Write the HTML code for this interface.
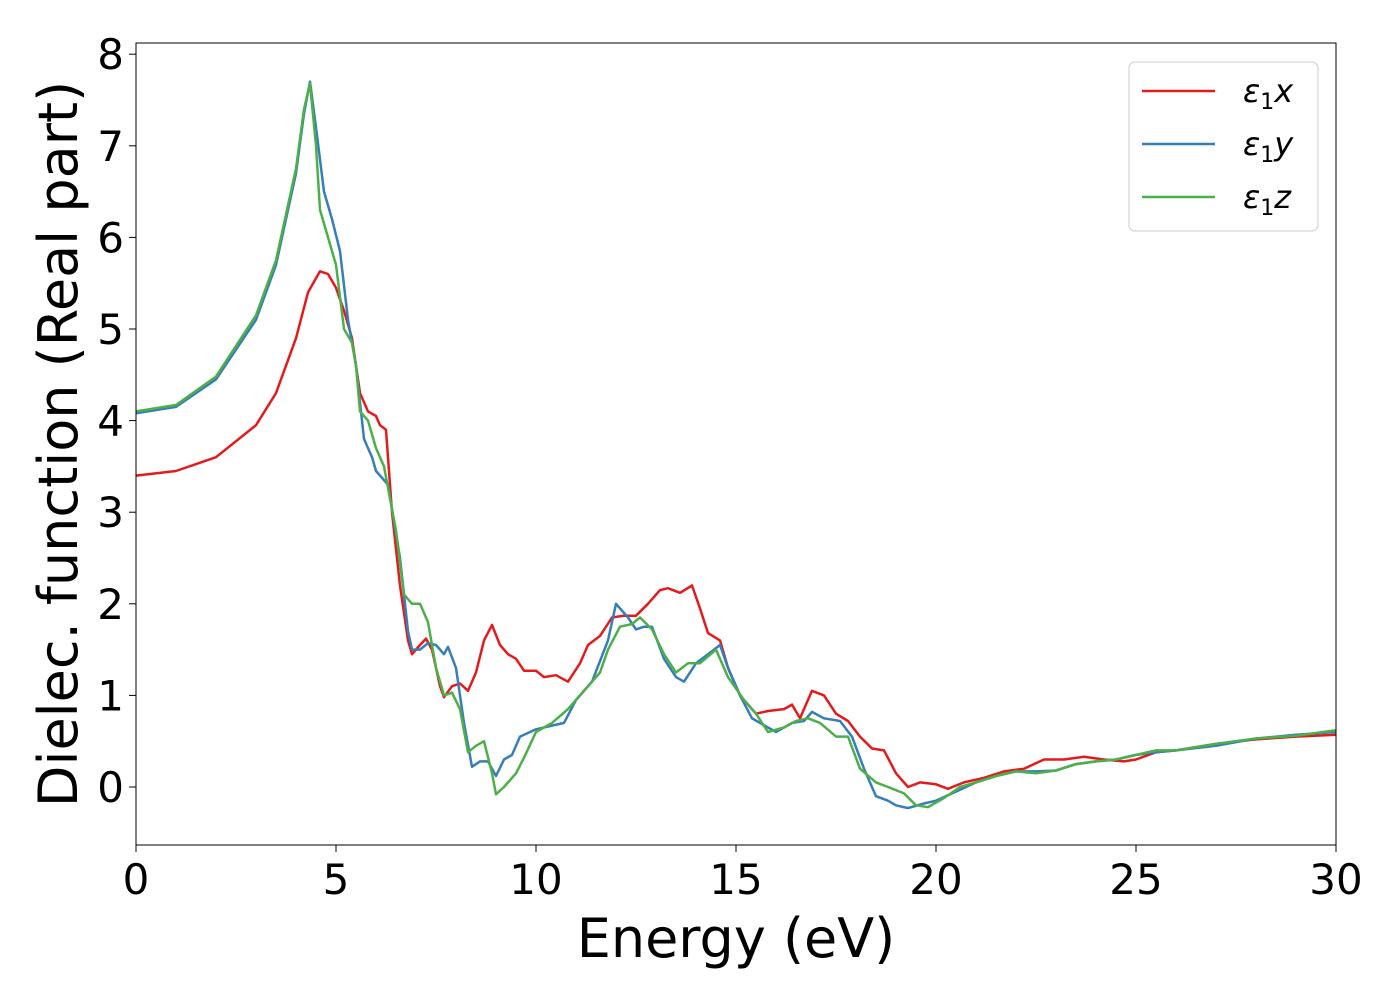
<!DOCTYPE html>
<html><head><meta charset="utf-8"><style>
body{margin:0;background:#fff}
svg{font-family:"DejaVu Sans","Liberation Sans",sans-serif}
</style></head><body>
<svg id="chart" width="1400" height="1000" viewBox="0 0 1400 1000">
<rect x="0" y="0" width="1400" height="1000" fill="#fff"/>
<g id="series"></g>
<rect x="136" y="43" width="1200" height="802" fill="none" stroke="#000" stroke-width="1"/>
<g id="xticks"></g>
<g id="yticks"></g>
<text x="736" y="957" font-size="54" text-anchor="middle">Energy (eV)</text>
<text transform="translate(77,444) rotate(-90)" font-size="54" text-anchor="middle">Dielec. function (Real part)</text>
<g>
<rect x="1129" y="62" width="189" height="169" rx="6" fill="#fff" fill-opacity="0.8" stroke="#ccc"/>
<line x1="1142" y1="91" x2="1215" y2="91" stroke="#e41a1c" stroke-width="2.5"/>
<text x="1243" y="102" font-size="32" font-style="italic">ε<tspan font-style="normal" font-size="22" dy="7">1</tspan><tspan dy="-7">x</tspan></text>
<line x1="1142" y1="144" x2="1215" y2="144" stroke="#377eb8" stroke-width="2.5"/>
<text x="1243" y="155" font-size="32" font-style="italic">ε<tspan font-style="normal" font-size="22" dy="7">1</tspan><tspan dy="-7">y</tspan></text>
<line x1="1142" y1="197" x2="1215" y2="197" stroke="#4daf4a" stroke-width="2.5"/>
<text x="1243" y="208" font-size="32" font-style="italic">ε<tspan font-style="normal" font-size="22" dy="7">1</tspan><tspan dy="-7">z</tspan></text>
</g>
</svg>
<script>
const xTicks=[0,5,10,15,20,25,30];
const yTicks=[0,1,2,3,4,5,6,7,8];
const ex=[[0,3.4],[1,3.45],[2,3.6],[3,3.95],[3.5,4.3],[4,4.9],[4.3,5.4],[4.6,5.63],[4.8,5.6],[5,5.45],[5.2,5.2],[5.4,4.9],[5.6,4.3],[5.8,4.1],[6,4.05],[6.1,3.95],[6.25,3.9],[6.4,3.0],[6.6,2.2],[6.8,1.6],[6.9,1.45],[7.1,1.55],[7.25,1.62],[7.4,1.5],[7.6,1.1],[7.7,0.98],[7.9,1.1],[8.1,1.13],[8.3,1.05],[8.5,1.25],[8.7,1.6],[8.9,1.77],[9.1,1.55],[9.3,1.45],[9.5,1.4],[9.7,1.27],[10,1.27],[10.2,1.2],[10.5,1.22],[10.8,1.15],[11.1,1.35],[11.3,1.55],[11.6,1.65],[11.9,1.85],[12.2,1.87],[12.5,1.87],[12.8,2.0],[13.1,2.15],[13.3,2.17],[13.6,2.12],[13.9,2.2],[14.1,1.95],[14.3,1.68],[14.6,1.6],[14.8,1.3],[15.1,1.0],[15.5,0.8],[15.8,0.83],[16.2,0.85],[16.4,0.9],[16.6,0.75],[16.9,1.05],[17.2,1.0],[17.5,0.8],[17.8,0.72],[18.1,0.55],[18.4,0.42],[18.7,0.4],[19,0.15],[19.3,0.0],[19.6,0.05],[20,0.03],[20.3,-0.02],[20.7,0.05],[21.2,0.1],[21.7,0.17],[22.2,0.2],[22.7,0.3],[23.2,0.3],[23.7,0.33],[24.2,0.3],[24.7,0.28],[25,0.3],[25.5,0.38],[26,0.4],[27,0.47],[28,0.52],[29,0.55],[30,0.57]];
const ey=[[0,4.08],[1,4.15],[2,4.45],[3,5.1],[3.5,5.7],[4,6.7],[4.2,7.35],[4.35,7.7],[4.5,7.2],[4.7,6.5],[4.9,6.2],[5.1,5.85],[5.3,5.1],[5.5,4.6],[5.6,4.2],[5.7,3.8],[5.9,3.6],[6,3.45],[6.3,3.3],[6.6,2.5],[6.8,1.7],[6.9,1.5],[7.1,1.5],[7.3,1.57],[7.5,1.55],[7.7,1.45],[7.8,1.53],[8,1.3],[8.2,0.7],[8.4,0.22],[8.6,0.28],[8.8,0.28],[9,0.12],[9.2,0.3],[9.4,0.35],[9.6,0.55],[10,0.63],[10.4,0.67],[10.7,0.7],[11,0.95],[11.4,1.15],[11.8,1.6],[12,2.0],[12.3,1.85],[12.5,1.72],[12.7,1.75],[12.9,1.75],[13.2,1.4],[13.5,1.2],[13.7,1.15],[14,1.35],[14.3,1.45],[14.6,1.55],[14.8,1.3],[15.1,1.0],[15.4,0.75],[15.8,0.65],[16,0.6],[16.4,0.7],[16.7,0.72],[16.9,0.82],[17.2,0.75],[17.6,0.72],[17.9,0.55],[18.2,0.2],[18.5,-0.1],[18.8,-0.15],[19,-0.2],[19.3,-0.23],[19.7,-0.18],[20,-0.15],[20.5,-0.05],[21,0.05],[21.5,0.12],[22,0.17],[22.5,0.17],[23,0.18],[23.5,0.25],[24,0.28],[24.5,0.3],[25,0.35],[25.5,0.38],[26,0.4],[27,0.45],[28,0.53],[29,0.57],[30,0.6]];
const ez=[[0,4.1],[1,4.17],[2,4.48],[3,5.15],[3.5,5.75],[4,6.75],[4.2,7.4],[4.35,7.68],[4.5,7.0],[4.6,6.3],[4.8,6.0],[5,5.7],[5.2,5.0],[5.4,4.85],[5.5,4.6],[5.6,4.1],[5.8,4.0],[6,3.7],[6.2,3.5],[6.5,2.8],[6.7,2.1],[6.9,2.0],[7.1,2.0],[7.3,1.8],[7.5,1.3],[7.7,1.0],[7.9,1.03],[8.1,0.85],[8.3,0.38],[8.5,0.45],[8.7,0.5],[8.9,0.15],[9,-0.08],[9.2,0.0],[9.5,0.15],[9.7,0.32],[10,0.6],[10.4,0.7],[10.8,0.85],[11.2,1.05],[11.6,1.25],[11.8,1.5],[12.1,1.75],[12.4,1.78],[12.6,1.85],[12.9,1.72],[13.2,1.45],[13.5,1.25],[13.8,1.35],[14.1,1.35],[14.5,1.5],[14.8,1.2],[15.2,0.95],[15.5,0.8],[15.8,0.6],[16.2,0.65],[16.5,0.72],[16.8,0.75],[17.1,0.7],[17.5,0.55],[17.8,0.55],[18.1,0.2],[18.5,0.05],[18.8,0.0],[19.2,-0.07],[19.5,-0.2],[19.8,-0.22],[20.2,-0.12],[20.6,0.0],[21,0.05],[21.5,0.12],[22,0.17],[22.5,0.15],[23,0.18],[23.5,0.25],[24,0.28],[24.5,0.3],[25,0.35],[25.5,0.4],[26,0.4],[27,0.47],[28,0.53],[29,0.56],[30,0.62]];
const NS='http://www.w3.org/2000/svg';
function sx(v){return 136+v*40;}
function sy(v){return 787-v*91.6;}
const xg=document.getElementById('xticks');
xTicks.forEach(t=>{
 const l=document.createElementNS(NS,'line');
 
 
 l.setAttribute('x1',sx(t));l.setAttribute('x2',sx(t));l.setAttribute('y1',845);l.setAttribute('y2',852);l.setAttribute('stroke','#000');
 xg.appendChild(l);
 const tx=document.createElementNS(NS,'text');
 
 
 tx.setAttribute('x',sx(t));tx.setAttribute('y',894);tx.setAttribute('font-size','42');tx.setAttribute('text-anchor','middle');
 tx.textContent=t;xg.appendChild(tx);
});
const yg=document.getElementById('yticks');
yTicks.forEach(t=>{
 const l=document.createElementNS(NS,'line');
 
 
 l.setAttribute('x1',129);l.setAttribute('x2',136);l.setAttribute('y1',sy(t));l.setAttribute('y2',sy(t));l.setAttribute('stroke','#000');
 yg.appendChild(l);
 const tx=document.createElementNS(NS,'text');
 
 
 tx.setAttribute('x',124);tx.setAttribute('y',sy(t)+15);tx.setAttribute('font-size','42');tx.setAttribute('text-anchor','end');
 tx.textContent=t;yg.appendChild(tx);
});
const sg=document.getElementById('series');
[[ex,'#e41a1c','line-eps1-x'],[ey,'#377eb8','line-eps1-y'],[ez,'#4daf4a','line-eps1-z']].forEach(([d,c,n])=>{
 const p=document.createElementNS(NS,'polyline');
 
 
 p.setAttribute('points',d.map(q=>sx(q[0]).toFixed(1)+','+sy(q[1]).toFixed(1)).join(' '));
 p.setAttribute('fill','none');p.setAttribute('stroke',c);p.setAttribute('stroke-width','2.5');p.setAttribute('stroke-linejoin','round');
 sg.appendChild(p);
});
</script>
</body></html>
